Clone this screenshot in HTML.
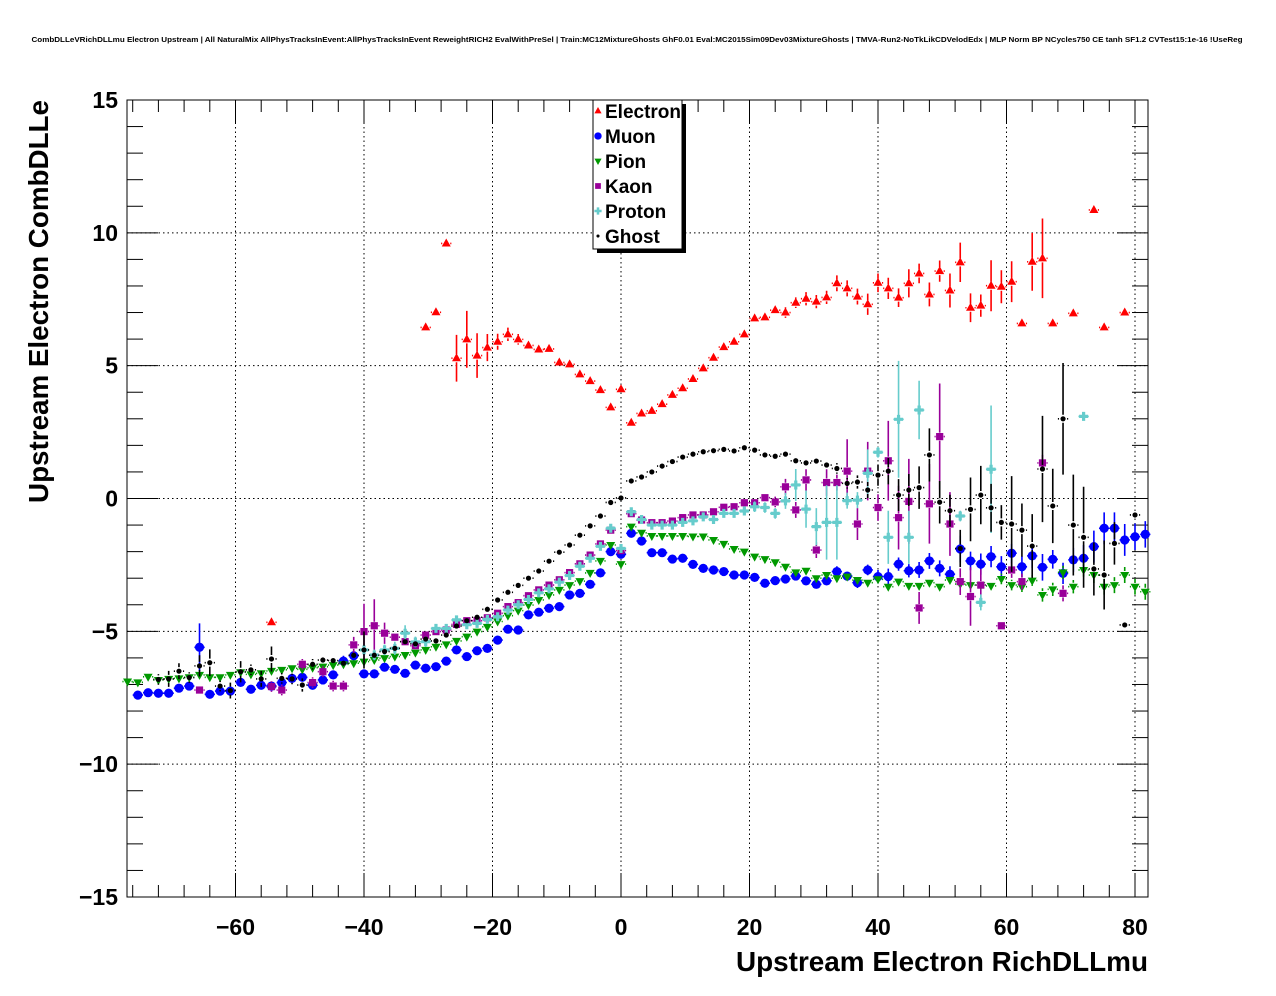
<!DOCTYPE html>
<html><head><meta charset="utf-8"><style>
html,body{margin:0;padding:0;background:#fff;}
svg{display:block;font-family:"Liberation Sans",Arial,sans-serif;}
</style></head><body>
<svg id="c" width="1276" height="996" viewBox="0 0 1276 996" xmlns="http://www.w3.org/2000/svg">
<rect x="0" y="0" width="1276" height="996" fill="#fff"/>
<text x="637" y="42" font-size="7.2" font-weight="bold" text-anchor="middle" textLength="1211" lengthAdjust="spacingAndGlyphs">CombDLLeVRichDLLmu Electron Upstream | All NaturalMix AllPhysTracksInEvent:AllPhysTracksInEvent ReweightRICH2 EvalWithPreSel | Train:MC12MixtureGhosts GhF0.01 Eval:MC2015Sim09Dev03MixtureGhosts | TMVA-Run2-NoTkLikCDVelodEdx | MLP Norm BP NCycles750 CE tanh SF1.2 CVTest15:1e-16 !UseReg</text>
<g id="grid"></g>
<g id="axes"></g>
<g id="marks"></g>
<text x="1148" y="971" font-size="28" font-weight="bold" text-anchor="end" textLength="412" lengthAdjust="spacingAndGlyphs">Upstream Electron RichDLLmu</text>
<text transform="translate(48,100) rotate(-90)" font-size="28" font-weight="bold" text-anchor="end" textLength="403" lengthAdjust="spacingAndGlyphs">Upstream Electron CombDLLe</text>
<g id="legend"></g>
</svg>
<script>
// ---- data (bin centres are binWidth*k, arrays start at the given k) ----
const binWidth = 1.6;
const xTicks = [-60,-40,-20,0,20,40,60,80];
const yTicks = [-15,-10,-5,0,5,10,15];
const seriesNames = ["Electron","Muon","Pion","Kaon","Proton","Ghost"];

const electronStart = -34;
const electronY = [-4.66,null,null,null,null,null,null,null,null,null,null,null,null,null,null,
6.44,7.01,9.60,5.28,5.99,5.38,5.68,5.90,6.18,5.99,5.76,5.61,5.63,5.12,5.05,4.67,4.42,4.08,3.43,4.11,
2.85,3.2,3.3,3.55,3.9,4.15,4.5,4.9,5.3,5.7,5.9,
6.18,6.78,6.82,7.09,7.0,7.37,7.52,7.41,7.57,8.10,7.91,7.60,7.31,8.12,7.91,7.56,8.10,8.47,7.68,8.56,7.83,8.89,7.18,7.26,8.01,7.97,8.16,6.59,8.91,9.04,6.59,null,6.97,null,10.86,6.44,null,7.0];
const electronErr = [0.1,0,0,0,0,0,0,0,0,0,0,0,0,0,0,
0.12,0.12,0.1,0.88,1.07,0.84,0.51,0.3,0.25,0.2,0.15,0.15,0.12,0.1,0.1,0.1,0.1,0.1,0.1,0.1,
0.1,0.1,0.1,0.1,0.1,0.1,0.1,0.1,0.1,0.1,0.12,
0.12,0.15,0.15,0.15,0.2,0.2,0.25,0.25,0.25,0.3,0.3,0.3,0.4,0.35,0.4,0.35,0.53,0.37,0.45,0.4,0.64,0.74,0.54,0.42,0.96,0.62,0.77,0.15,1.09,1.5,0.15,0,0.12,0,0.12,0.12,0,0.12];

const muonStart = -47;
const muonY = [-7.40,-7.31,-7.33,-7.33,-7.14,-7.06,-5.60,-7.37,-7.25,-7.25,-6.92,-7.18,-7.03,-7.06,-6.93,-6.77,-6.73,-7.03,-6.83,-6.64,-6.12,-5.92,-6.60,-6.60,-6.35,-6.43,-6.58,-6.27,-6.39,-6.33,-6.12,-5.70,-5.95,-5.73,-5.64,-5.33,-4.92,-4.95,-4.38,-4.28,-4.13,-4.07,-3.63,-3.57,-3.23,
-2.8,-2.0,-2.1,
-1.31,-1.60,-2.04,-2.04,-2.28,-2.25,-2.48,-2.63,-2.69,-2.75,-2.88,-2.88,-2.97,-3.19,-3.09,-3.03,-2.92,-3.10,-3.23,-3.10,-2.75,-2.92,-3.17,-2.69,-2.94,-2.94,-2.47,-2.72,-2.69,-2.35,-2.63,-2.85,-1.90,-2.35,-2.47,-2.19,-2.57,-2.06,-2.57,-2.16,-2.59,-2.29,-2.82,-2.31,-2.25,-1.81,-1.12,-1.12,-1.56,-1.44,-1.35];
const muonErr = [0.1,0.1,0.1,0.1,0.1,0.1,0.9,0.1,0.1,0.1,0.1,0.1,0.1,0.1,0.1,0.1,0.1,0.1,0.1,0.1,0.2,0.2,0.1,0.1,0.1,0.1,0.1,0.1,0.1,0.1,0.1,0.1,0.1,0.1,0.1,0.1,0.1,0.1,0.1,0.1,0.1,0.1,0.1,0.1,0.1,
0.1,0.1,0.1,
0.1,0.1,0.1,0.1,0.1,0.1,0.1,0.1,0.1,0.1,0.1,0.1,0.1,0.1,0.1,0.1,0.1,0.1,0.1,0.15,0.2,0.15,0.2,0.2,0.25,0.3,0.25,0.25,0.3,0.3,0.3,0.3,0.5,0.35,0.4,0.4,0.4,0.35,0.4,0.45,0.5,0.35,0.4,0.45,0.5,0.6,0.6,0.6,0.6,0.5,0.5];

const pionStart = -48;
const pionY = [-6.89,-6.92,-6.71,-6.83,-6.79,-6.77,-6.73,-6.64,-6.73,-6.73,-6.64,-6.54,-6.62,-6.58,-6.49,-6.45,-6.39,-6.43,-6.37,-6.33,-6.27,-6.24,-6.20,-6.14,-6.08,-6.01,-5.95,-5.89,-5.80,-5.70,-5.58,-5.49,-5.36,-5.20,-5.01,-4.83,-4.63,-4.41,-4.22,-4.01,-3.82,-3.63,-3.44,-3.26,-3.11,
-2.8,-2.35,-1.75,-2.47,
-1.06,-1.29,-1.41,-1.41,-1.41,-1.41,-1.43,-1.43,-1.56,-1.71,-1.90,-2.00,-2.19,-2.28,-2.40,-2.57,-2.78,-2.72,-3.00,-2.88,-3.00,-2.94,-3.07,-3.17,-3.04,-3.32,-3.13,-3.29,-3.29,-3.17,-3.32,-3.07,-3.22,-3.26,-3.26,-3.29,-3.03,-3.26,-3.32,-3.09,-3.63,-3.42,-2.78,-3.32,-2.69,-2.88,-3.32,-3.26,-2.88,-3.32,-3.51];
const pionErr = [0.08,0.08,0.08,0.08,0.08,0.08,0.08,0.08,0.08,0.08,0.08,0.08,0.08,0.08,0.08,0.08,0.08,0.08,0.08,0.08,0.08,0.08,0.08,0.08,0.08,0.08,0.08,0.08,0.08,0.08,0.08,0.08,0.08,0.08,0.08,0.08,0.08,0.08,0.08,0.08,0.08,0.08,0.08,0.08,0.08,
0.08,0.08,0.08,0.08,
0.08,0.08,0.08,0.08,0.08,0.08,0.08,0.08,0.08,0.08,0.08,0.08,0.08,0.08,0.08,0.08,0.1,0.1,0.1,0.1,0.1,0.1,0.1,0.1,0.1,0.1,0.12,0.12,0.12,0.12,0.12,0.15,0.15,0.15,0.15,0.15,0.2,0.2,0.2,0.2,0.25,0.25,0.25,0.25,0.25,0.3,0.3,0.3,0.3,0.3,0.3];

const kaonStart = -41;
const kaonY = [-7.21,null,null,null,null,null,null,-7.08,-7.21,null,-6.24,-6.93,-6.52,-7.06,-7.06,-5.51,-5.01,-4.79,-5.07,-5.22,-5.39,-5.54,-5.14,-5.01,-4.95,-4.74,-4.60,-4.60,-4.49,-4.32,-4.07,-3.92,-3.66,-3.44,-3.26,-3.06,-2.79,-2.46,-2.13,-1.71,-1.19,-1.96,
-0.57,-0.81,-0.91,-0.91,-0.85,-0.72,-0.62,-0.62,-0.50,-0.33,-0.31,-0.16,-0.16,0.03,-0.13,0.44,-0.43,0.70,-1.94,0.60,0.60,1.03,-0.96,1.03,-0.34,1.42,-0.72,-0.11,-4.12,-0.20,2.33,-0.96,-3.13,-3.69,-3.26,null,-4.79,-2.69,-3.13,null,1.34,null,-3.57];
const kaonErr = [0.15,0,0,0,0,0,0,0.2,0.2,0,0.2,0.2,0.2,0.2,0.2,0.3,1.05,1.0,0.4,0.15,0.1,0.1,0.1,0.1,0.1,0.1,0.1,0.1,0.1,0.1,0.1,0.1,0.1,0.1,0.1,0.1,0.1,0.1,0.1,0.1,0.1,0.1,
0.1,0.1,0.1,0.1,0.1,0.1,0.1,0.1,0.1,0.1,0.1,0.1,0.1,0.15,0.2,0.3,0.3,0.4,0.3,0.5,0.3,1.2,0.6,1.1,0.5,1.5,1.2,1.6,0.6,1.5,2.0,1.2,0.5,1.1,0.6,0,0.1,0.3,0.3,0,0.3,0,0.3];

const protonStart = -25;
const protonY = [-5.70,-5.89,-5.70,-5.64,-5.07,-5.4,-5.39,-4.89,-4.89,-4.57,-4.75,-4.7,-4.55,-4.45,-4.2,-4.0,-3.8,-3.55,-3.4,-3.15,-2.9,-2.55,-2.25,-1.8,-1.12,-1.88,
-0.50,-0.79,-1.0,-1.0,-1.0,-0.90,-0.84,-0.69,-0.79,-0.56,-0.56,-0.47,-0.31,-0.34,-0.56,-0.09,0.51,-0.4,-1.06,-0.90,-0.90,-0.08,-0.06,0.95,1.74,-1.46,2.98,-1.46,3.33,null,null,null,-0.66,null,-3.91,1.1,null,null,null,null,null,null,null,null,3.09];
const protonErr = [0.2,0.2,0.2,0.25,0.3,0.2,0.2,0.15,0.15,0.15,0.15,0.15,0.15,0.15,0.15,0.15,0.15,0.15,0.15,0.15,0.15,0.15,0.15,0.15,0.15,0.15,
0.15,0.15,0.15,0.15,0.15,0.15,0.15,0.15,0.15,0.15,0.15,0.15,0.2,0.2,0.2,0.3,0.6,0.7,0.7,1.4,1.4,0.3,0.3,0.9,0.2,1.0,2.2,1.0,1.1,0,0,0,0.2,0,0.3,2.4,0,0,0,0,0,0,0,0,0.1];

const ghostStart = -45;
const ghostY = [-6.81,-6.79,-6.5,-6.74,-6.3,-6.18,-7.06,-7.23,-6.52,-6.45,-6.79,-6.04,-6.77,-6.79,-7.02,-6.24,-6.08,-6.1,-6.2,-5.9,-5.7,-5.9,-5.76,-5.64,-5.39,-5.47,-5.29,-5.36,-5.14,-4.8,-4.6,-4.47,-4.17,-3.82,-3.53,-3.27,-3.0,-2.73,-2.36,-2.02,-1.75,-1.38,-1.03,-0.66,-0.15,0.02,
0.66,0.81,1.0,1.22,1.39,1.56,1.67,1.76,1.80,1.85,1.79,1.91,1.82,1.64,1.59,1.67,1.42,1.34,1.41,1.26,1.13,0.57,0.62,0.32,0.88,1.03,0.13,0.32,0.41,1.64,-0.14,-0.46,-1.88,-0.41,0.13,-0.35,-0.9,-0.96,-1.19,-1.79,1.11,-0.28,3.0,-1.0,-1.46,-2.65,-2.88,-1.69,-4.76,-0.62];
const ghostErr = [0.2,0.3,0.3,0.2,0.4,0.5,0.2,0.3,0.4,0.2,0.3,0.47,0.2,0.2,0.25,0.2,0.15,0.15,0.15,0.15,0.7,0.15,0.1,0.1,0.1,0.1,0.1,0.1,0.1,0.1,0.1,0.1,0.1,0.1,0.1,0.1,0.1,0.1,0.1,0.1,0.1,0.1,0.1,0.1,0.1,0.1,
0.08,0.08,0.08,0.08,0.08,0.08,0.08,0.08,0.08,0.08,0.08,0.08,0.08,0.1,0.1,0.1,0.12,0.12,0.15,0.15,0.2,0.2,0.25,0.3,0.4,0.5,0.6,0.6,0.8,1.0,0.8,0.6,0.7,1.2,1.1,0.9,0.65,1.8,1.0,1.2,2.0,1.4,2.1,1.9,1.9,1.0,1.3,0.8,0.1,0.1];

// ---- axis functions ----
const PX0 = 621, PXU = 6.425;
const PY0 = 498.5, PYU = 26.567;
const FL = 127, FR = 1148, FT = 100, FB = 897;
const sx = v => PX0 + v*PXU;
const sy = v => PY0 - v*PYU;
const NS = "http://www.w3.org/2000/svg";
function mk(tag, attrs, parent){ const e=document.createElementNS(NS,tag); for(const k in attrs) e.setAttribute(k,attrs[k]); parent.appendChild(e); return e; }

const grid = document.getElementById('grid');
const axes = document.getElementById('axes');
const marks = document.getElementById('marks');
const legend = document.getElementById('legend');

xTicks.forEach(t=>{ const l=mk('line',{x1:sx(t),x2:sx(t),y1:FT,y2:FB,stroke:'#000','stroke-width':1,'stroke-dasharray':'1.5,3'},grid);
  });
yTicks.forEach(t=>{ const l=mk('line',{x1:FL,x2:FR,y1:sy(t),y2:sy(t),stroke:'#000','stroke-width':1,'stroke-dasharray':'1.5,3'},grid);
  });

const fr = mk('rect',{x:FL,y:FT,width:FR-FL,height:FB-FT,fill:'none',stroke:'#000','stroke-width':1},axes);
 

for(let v=-76; v<=82; v+=4){
  const major = v%20===0; const len = major?24:12; const X=sx(v);
  if(X<FL||X>FR) continue;
  mk('line',{x1:X,x2:X,y1:FB,y2:FB-len,stroke:'#000','stroke-width':1},axes);
  mk('line',{x1:X,x2:X,y1:FT,y2:FT+len,stroke:'#000','stroke-width':1},axes);
}
for(let v=-15; v<=15; v+=1){
  const major = v%5===0; const len = major?31:16; const Y=sy(v);
  mk('line',{x1:FL,x2:FL+len,y1:Y,y2:Y,stroke:'#000','stroke-width':1},axes);
  mk('line',{x1:FR,x2:FR-len,y1:Y,y2:Y,stroke:'#000','stroke-width':1},axes);
}
const fmt = t => t<0 ? '\u2212'+Math.abs(t) : String(t);
xTicks.forEach(t=>{ const e=mk('text',{x:sx(t),y:935,'font-size':23,'font-weight':'bold','text-anchor':'middle'},axes); e.textContent=fmt(t);
  });
yTicks.forEach(t=>{ const e=mk('text',{x:118,y:sy(t)+8,'font-size':23,'font-weight':'bold','text-anchor':'end'},axes); e.textContent=fmt(t);
  });

function marker(kind, color, X, Y, parent){
  let e;
  if(kind==='tri') e=mk('polygon',{points:`${X},${Y-5} ${X-4.5},${Y+3} ${X+4.5},${Y+3}`,fill:color},parent);
  else if(kind==='circ') e=mk('circle',{cx:X,cy:Y,r:4.6,fill:color},parent);
  else if(kind==='tridown') e=mk('polygon',{points:`${X},${Y+5} ${X-4.5},${Y-3} ${X+4.5},${Y-3}`,fill:color},parent);
  else if(kind==='sq') e=mk('rect',{x:X-3.6,y:Y-3.6,width:7.2,height:7.2,fill:color},parent);
  else if(kind==='plus') e=mk('path',{d:`M${X-4.5},${Y}H${X+4.5}M${X},${Y-4.5}V${Y+4.5}`,stroke:color,'stroke-width':3.2},parent);
  else e=mk('circle',{cx:X,cy:Y,r:2.6,fill:color},parent);
  return e;
}
const defs = [
  {name:'electron',start:electronStart,ys:electronY,errs:electronErr,color:'#ff0000',kind:'tri'},
  {name:'muon',start:muonStart,ys:muonY,errs:muonErr,color:'#0000ff',kind:'circ'},
  {name:'pion',start:pionStart,ys:pionY,errs:pionErr,color:'#009900',kind:'tridown'},
  {name:'kaon',start:kaonStart,ys:kaonY,errs:kaonErr,color:'#990099',kind:'sq'},
  {name:'proton',start:protonStart,ys:protonY,errs:protonErr,color:'#66cccc',kind:'plus'},
  {name:'ghost',start:ghostStart,ys:ghostY,errs:ghostErr,color:'#000000',kind:'dot'}
];
defs.forEach(s=>{
  const g = mk('g',{},marks);
  
  
  s.ys.forEach((v,i)=>{
    if(v===null||v===undefined) return;
    const xc = binWidth*(s.start+i);
    const X=sx(xc), Y=sy(v);
    const er = s.errs[i]||0;
    const hw = binWidth/2*PXU;
    const gap = 4;
    mk('path',{d:`M${X-hw},${Y}H${X-gap}M${X+gap},${Y}H${X+hw}`,stroke:s.color,'stroke-width':1.6},g);
    if(er*PYU>gap){ mk('path',{d:`M${X},${Y-er*PYU}V${Y-gap}M${X},${Y+gap}V${Y+er*PYU}`,stroke:s.color,'stroke-width':1.6},g); }
    const m = marker(s.kind,s.color,X,Y,g);
    
    
  });
});

mk('rect',{x:597,y:104,width:89,height:149,fill:'#000'},legend);
const lb = mk('rect',{x:593,y:100,width:89,height:149,fill:'#fff',stroke:'#000','stroke-width':1},legend);
 
defs.forEach((s,i)=>{
  const Y = 111 + i*25;
  const g = mk('g',{},legend);
  
  
  const sc = s.kind==='dot'?0.6:0.8;
  const m = marker(s.kind,s.color,598,Y,g);
  m.setAttribute('transform',`translate(${598*(1-sc)},${Y*(1-sc)}) scale(${sc})`);
  const t = mk('text',{x:605,y:Y+7,'font-size':19,'font-weight':'bold'},g);
  t.textContent = seriesNames[i];
});
</script>
</body></html>
